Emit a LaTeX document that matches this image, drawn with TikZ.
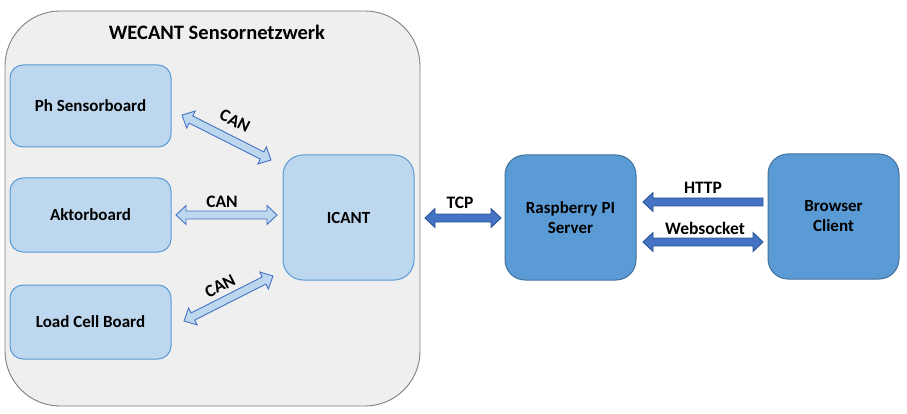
\documentclass[tikz,border=0pt]{standalone}
\usepackage{fontspec}
\setmainfont{Carlito}
\usetikzlibrary{calc}
\definecolor{outerfill}{HTML}{EFEFEF}
\definecolor{outerdraw}{HTML}{808080}
\definecolor{lightfill}{HTML}{BDD7EE}
\definecolor{lightdraw}{HTML}{5B9BD5}
\definecolor{darkfill}{HTML}{5B9BD5}
\definecolor{darkdraw}{HTML}{41719C}
\definecolor{arrowlight}{HTML}{BDD7EE}
\definecolor{arrowlightdraw}{HTML}{4472C4}
\definecolor{arrowdark}{HTML}{4472C4}
\definecolor{arrowdarkdraw}{HTML}{2F5597}
\tikzset{
  pics/dblarrow/.style={code={%
    \path[pic actions] (0,0) -- (10,9.5) -- (10,4) -- (#1-10,4) -- (#1-10,9.5) -- (#1,0)
      -- (#1-10,-9.5) -- (#1-10,-4) -- (10,-4) -- (10,-9.5) -- cycle;}},
  pics/sglarrow/.style={code={%
    \path[pic actions] (0,4) -- (#1-10,4) -- (#1-10,9.5) -- (#1,0)
      -- (#1-10,-9.5) -- (#1-10,-4) -- (0,-4) -- cycle;}},
  outerbox/.style={draw=outerdraw, fill=outerfill, line width=0.9pt, rounded corners=55pt},
  lightbox/.style={draw=lightdraw, fill=lightfill, line width=1pt, minimum width=161pt,
    rounded corners=13pt, font=\fontsize{17}{20}\selectfont\bfseries, align=center},
  bigbox/.style={draw=lightdraw, fill=lightfill, line width=1pt, minimum width=131pt,
    minimum height=125pt, rounded corners=20pt, font=\fontsize{17}{20}\selectfont\bfseries, align=center},
  darkbox/.style={draw=darkdraw, fill=darkfill, line width=1pt, minimum width=131pt,
    minimum height=125pt, rounded corners=20pt, font=\fontsize{17}{20}\selectfont\bfseries, align=center},
  lbl/.style={font=\fontsize{17.5}{20}\selectfont\bfseries, inner sep=0pt},
  canarrow/.style={fill=arrowlight, draw=arrowlightdraw, line width=0.9pt},
  netarrow/.style={fill=arrowdark, draw=arrowdarkdraw, line width=0.9pt},
}
\begin{document}
\begin{tikzpicture}[x=1pt, y=-1pt]
\useasboundingbox (0,0) rectangle (907,414);
% outer container
\draw[outerbox] (5,11) rectangle (420,406);
\node[font=\fontsize{20.5}{24}\selectfont\bfseries] (title) at (217,32) {WECANT Sensornetzwerk};
% boxes
\node[lightbox, minimum height=82pt] (ph) at (90.5,106) {Ph Sensorboard};
\node[lightbox, minimum height=74pt] (akt) at (90.5,215) {Aktorboard};
\node[lightbox, minimum height=74pt] (load) at (90.5,322) {Load Cell Board};
\node[bigbox] (icant) at (348.5,217.5) {ICANT};
\node[darkbox] (rpi) at (570.5,217.5) {Raspberry PI\\Server};
\node[darkbox] (browser) at (833.5,216.5) {Browser\\Client};
% arrow end points
\coordinate (c1a) at (182,115);
\coordinate (c1b) at (271,160);
\coordinate (c2a) at (176,215);
\coordinate (c2b) at (277,215);
\coordinate (c3a) at (184,321);
\coordinate (c3b) at (273,276);
\coordinate (ta) at (425,218);
\coordinate (tb) at (501,218);
\coordinate (ha) at (763,202);
\coordinate (hb) at (643,202);
\coordinate (wa) at (643,242);
\coordinate (wb) at (763,242);
% arrows
\foreach \s/\e/\kind/\sty in {c1a/c1b/dblarrow/canarrow, c2a/c2b/dblarrow/canarrow, c3a/c3b/dblarrow/canarrow,
    ta/tb/dblarrow/netarrow, ha/hb/sglarrow/netarrow, wa/wb/dblarrow/netarrow}{
  \path let \p1=(\s), \p2=(\e), \n1={atan2(\y2-\y1,\x2-\x1)}, \n2={veclen(\x2-\x1,\y2-\y1)} in
    (\p1) pic[rotate=\n1, \sty] {\kind=\n2};
}
% labels
\node[lbl, rotate=-27] (l1) at (235,121) {CAN};
\node[lbl] (l2) at (222,202) {CAN};
\node[lbl, rotate=27] (l3) at (220,286) {CAN};
\node[lbl] (l4) at (460,203) {TCP};
\node[lbl] (l5) at (703,188) {HTTP};
\node[lbl] (l6) at (705,228) {Websocket};
\end{tikzpicture}
\end{document}
